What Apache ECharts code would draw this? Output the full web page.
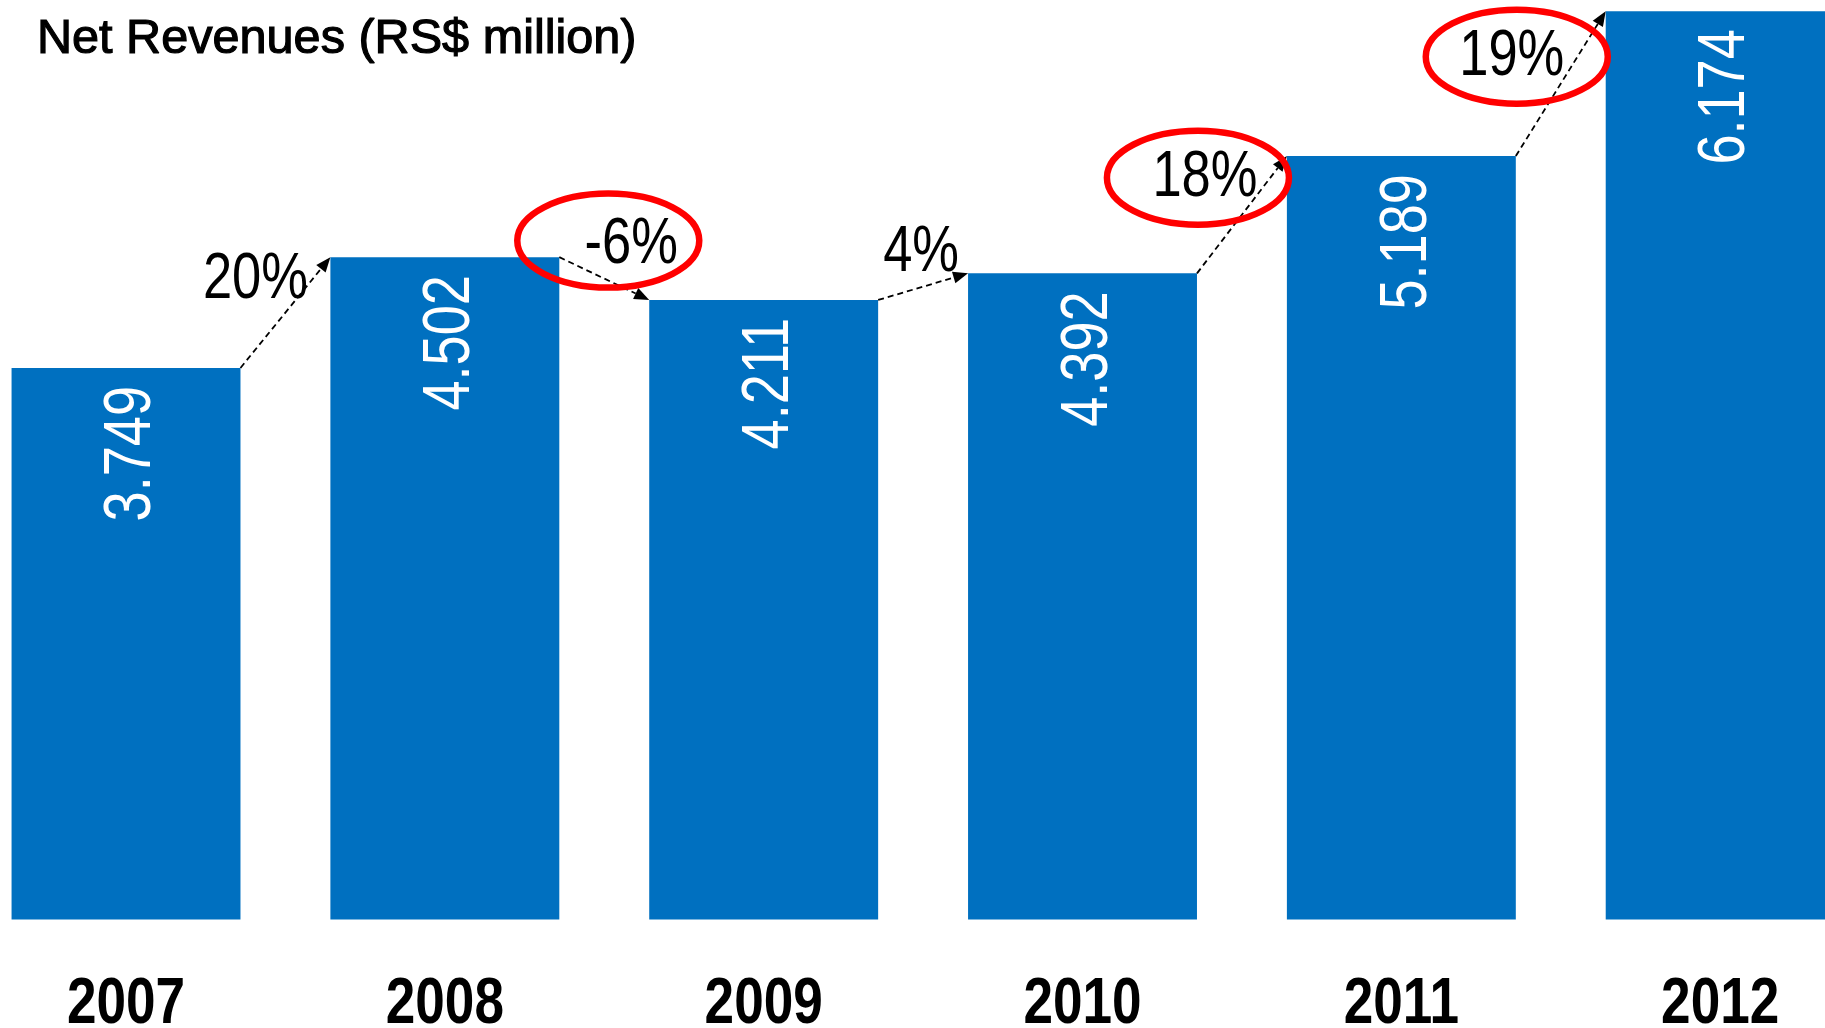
<!DOCTYPE html>
<html>
<head>
<meta charset="utf-8">
<title>Net Revenues</title>
<script src="https://cdn.jsdelivr.net/npm/echarts@6/dist/echarts.min.js"></script>
<style>
  html, body { margin: 0; padding: 0; background: #ffffff; }
  #chart { width: 1825px; height: 1028px; }
</style>
</head>
<body>
<div id="chart"></div>
<script>
// Net revenues per year, R$ million
const years = ['2007', '2008', '2009', '2010', '2011', '2012'];
const revenues = [3749, 4502, 4211, 4392, 5189, 6174];

// Year-over-year growth shown on the arrows between bars (%)
const growth = [20, -6, 4, 18, 19];
// Growth figures circled in red
const circled = [false, true, false, true, true];

// Layout of the growth labels relative to each arrow's midpoint, and of the circles relative to the label
const labelOffsets = [[-30, -32], [27, -33], [-2, -33], [-37, -36], [-49, -26]];
const circleOffsets = [[0, 0], [-23, -5], [0, 0], [-7, -1], [5, -1]];

const BAR_RATIO = 0.718;
const SANS = '"Liberation Sans", Arial, Helvetica, sans-serif';
// Condensed look: regular sans squeezed horizontally
const SQUEEZE = 0.82;

function thousands(v) {
  return String(v).replace(/\B(?=(\d{3})+(?!\d))/g, '.');
}

const chart = echarts.init(document.getElementById('chart'), null, { renderer: 'canvas' });

chart.setOption({
  animation: false,
  backgroundColor: '#ffffff',
  title: {
    text: 'Net Revenues (RS$ million)',
    left: 32,
    top: 10,
    textStyle: {
      fontFamily: SANS,
      fontSize: 48.6,
      fontWeight: 'normal',
      color: '#000000',
      textBorderColor: '#000000',
      textBorderWidth: 1.2
    }
  },
  grid: {
    left: -33.4, width: 1913, top: 0, bottom: 108.5,
    containLabel: false,
    outerBoundsMode: 'none'
  },
  xAxis: {
    type: 'category',
    data: years,
    axisLine: { show: false },
    axisTick: { show: false },
    axisLabel: { show: false }
  },
  yAxis: {
    type: 'value',
    min: 0,
    max: 6250,
    show: false,
    splitLine: { show: false }
  },
  series: [
    {
      type: 'bar',
      data: revenues,
      barWidth: (BAR_RATIO * 100) + '%',
      itemStyle: { color: '#0070C0' },
      z: 2
    },
    {
      // value inside each bar and the year below it
      type: 'custom',
      clip: false,
      z: 4,
      data: revenues.map((v, i) => [i, v]),
      renderItem: function (params, api) {
        const i = api.value(0);
        const top = api.coord([i, api.value(1)]);
        const base = api.coord([i, 0]);
        return {
          type: 'group',
          children: [
            {
              type: 'text',
              x: top[0] + 6,
              y: top[1] + 18,
              rotation: Math.PI / 2,
              scaleX: SQUEEZE,
              style: {
                text: thousands(api.value(1)),
                fill: '#ffffff',
                font: 'normal 66px ' + SANS,
                align: 'right',
                verticalAlign: 'middle'
              }
            },
            {
              type: 'text',
              x: base[0],
              y: base[1] + 86,
              scaleX: 0.83,
              style: {
                text: years[i],
                fill: '#000000',
                font: 'bold 64px ' + SANS,
                align: 'center',
                verticalAlign: 'middle'
              }
            }
          ]
        };
      }
    },
    {
      // growth arrows between consecutive bars
      type: 'custom',
      clip: false,
      z: 5,
      data: growth.map((g, i) => [i + 1, g]),
      renderItem: function (params, api) {
        const i = api.value(0);
        const k = i - 1;
        const band = api.size([1, 0])[0];
        const half = band * BAR_RATIO / 2;
        const a = api.coord([i - 1, revenues[i - 1]]);
        const b = api.coord([i, revenues[i]]);
        const x0 = a[0] + half, y0 = a[1];
        const x1 = b[0] - half, y1 = b[1];
        const dx = x1 - x0, dy = y1 - y0;
        const len = Math.sqrt(dx * dx + dy * dy);
        const ux = dx / len, uy = dy / len;
        const headLen = 15, headW = 6;
        const bx = x1 - ux * headLen, by = y1 - uy * headLen;
        const mx = (x0 + x1) / 2, my = (y0 + y1) / 2;
        const tx = mx + labelOffsets[k][0], ty = my + labelOffsets[k][1];
        const children = [
          {
            type: 'line',
            shape: { x1: x0, y1: y0, x2: bx, y2: by },
            style: { stroke: '#000000', lineWidth: 1.8, lineDash: [6, 4] }
          },
          {
            type: 'polygon',
            shape: {
              points: [
                [x1, y1],
                [bx - uy * headW, by + ux * headW],
                [bx + uy * headW, by - ux * headW]
              ]
            },
            style: { fill: '#000000' }
          },
          {
            type: 'text',
            x: tx,
            y: ty,
            scaleX: SQUEEZE,
            style: {
              text: api.value(1) + '%',
              fill: '#000000',
              font: 'normal 64px ' + SANS,
              align: 'center',
              verticalAlign: 'middle'
            }
          }
        ];
        if (circled[k]) {
          children.push({
            type: 'ellipse',
            shape: { cx: tx + circleOffsets[k][0], cy: ty + circleOffsets[k][1], rx: 91, ry: 47 },
            style: { fill: 'none', stroke: '#FF0000', lineWidth: 6.5 }
          });
        }
        return { type: 'group', children: children };
      }
    }
  ]
});
</script>
</body>
</html>
